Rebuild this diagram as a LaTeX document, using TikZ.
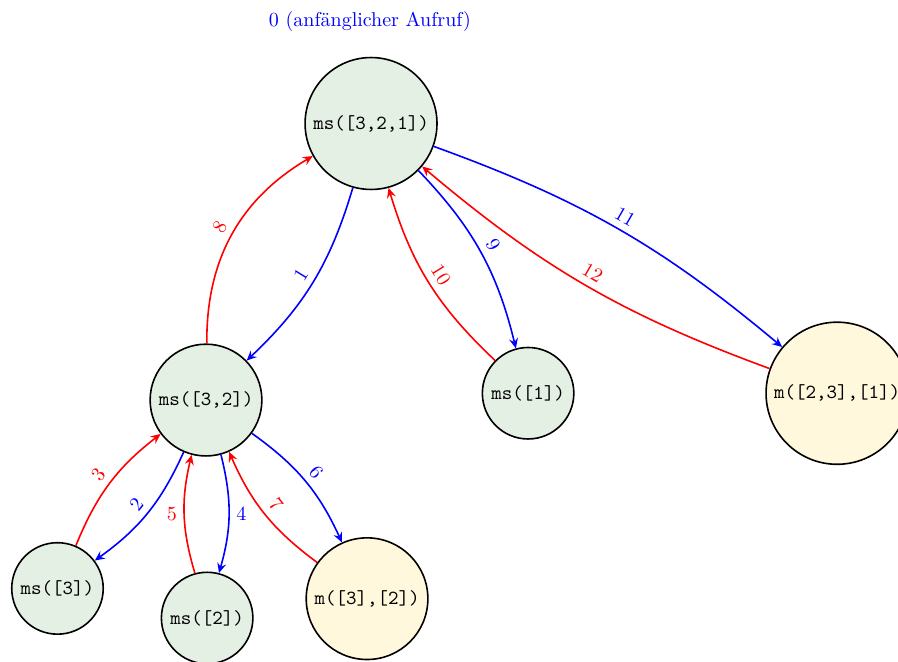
\documentclass[tikz,border=0pt]{standalone}
\usepackage{tikz}
\usetikzlibrary{arrows.meta}
\usepackage{color}
\definecolor{msgreen}{RGB}{228,240,228}
\definecolor{mergeyellow}{RGB}{255,248,220}

\begin{document}
\begin{tikzpicture}[>={Stealth[length=5pt, width=4.5pt, inset=1.8pt]},
		mscall/.style={circle, draw, thick, fill=msgreen, font=\ttfamily},
		mergecall/.style={circle, draw, thick, fill=mergeyellow, font=\ttfamily},
		callarrow/.style={->, blue, thick},
		returnarrow/.style={->, red, thick}]
		\useasboundingbox (0,0) rectangle (15.78,-11.62);

		\node[blue] (start) at (6.50,-0.37) {0 (anfänglicher Aufruf)};

		\node[mscall] (ms321) at (6.52,-2.17) {ms([3,2,1])};
		\node[mscall] (ms32) at (3.62,-7.03) {ms([3,2])};
		\node[mscall] (ms1) at (9.28,-6.91) {ms([1])};
		\node[mergecall] (m231) at (14.71,-6.91) {m([2,3],[1])};
		\node[mscall] (ms3) at (1.01,-10.34) {ms([3])};
		\node[mscall] (ms2) at (3.64,-10.86) {ms([2])};
		\node[mergecall] (m32) at (6.45,-10.52) {m([3],[2])};

		\draw[callarrow] (ms321) to[bend left=15] node[sloped, above] {1} (ms32);
		\draw[callarrow] (ms32) to[bend left=15] node[sloped, above] {2} (ms3);
		\draw[returnarrow] (ms3) to[bend left=15] node[sloped, above] {3} (ms32);
		\draw[callarrow] (ms32) to[bend left=15] node[right] {4} (ms2);
		\draw[returnarrow] (ms2) to[bend left=15] node[left] {5} (ms32);
		\draw[callarrow] (ms32) to[bend left=15] node[sloped, above] {6} (m32);
		\draw[returnarrow] (m32) to[bend left=15] node[sloped, above] {7} (ms32);
		\draw[returnarrow] (ms32) to[bend left=30] node[sloped, above] {8} (ms321);
		\draw[callarrow] (ms321) to[bend left=15] node[sloped, above] {9} (ms1);
		\draw[returnarrow] (ms1) to[bend left=15] node[sloped, above] {10} (ms321);
		\draw[callarrow] (ms321) to[bend left=10] node[sloped, above] {11} (m231);
		\draw[returnarrow] (m231) to[bend left=10] node[sloped, above] {12} (ms321);
	\end{tikzpicture}
\end{document}
